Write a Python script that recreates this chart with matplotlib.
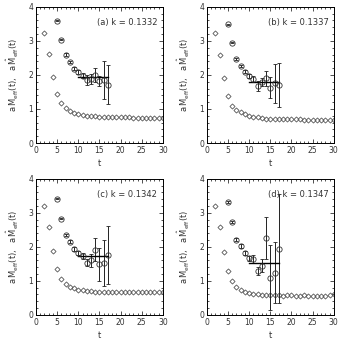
import numpy as np
import matplotlib.pyplot as plt
from matplotlib.ticker import MultipleLocator

# effective masses, lower (t = 2..30) and upper (t = 5..17) channels
t_low = np.arange(2, 31)
t_up = np.arange(5, 18)

labels = ['(a) k = 0.1332', '(b) k = 0.1337', '(c) k = 0.1342', '(d) k = 0.1347']

low = [
    [3.22, 2.61, 1.93, 1.43, 1.17, 1.02, 0.95, 0.87, 0.84, 0.82, 0.80, 0.79, 0.78, 0.77, 0.76,
     0.76, 0.76, 0.75, 0.75, 0.75, 0.75, 0.74, 0.74, 0.74, 0.74, 0.74, 0.74, 0.74, 0.74],
    [3.22, 2.60, 1.90, 1.39, 1.09, 0.96, 0.90, 0.84, 0.80, 0.77, 0.75, 0.73, 0.72, 0.71, 0.71,
     0.70, 0.70, 0.70, 0.70, 0.70, 0.70, 0.69, 0.69, 0.69, 0.69, 0.69, 0.69, 0.69, 0.69],
    [3.20, 2.59, 1.87, 1.34, 1.04, 0.90, 0.83, 0.78, 0.74, 0.72, 0.70, 0.69, 0.68, 0.67, 0.67,
     0.67, 0.66, 0.66, 0.66, 0.66, 0.66, 0.66, 0.66, 0.66, 0.66, 0.66, 0.66, 0.66, 0.67],
    [3.20, 2.58, 1.85, 1.29, 1.00, 0.82, 0.73, 0.66, 0.63, 0.61, 0.60, 0.59, 0.58, 0.57, 0.57,
     0.57, 0.56, 0.57, 0.57, 0.56, 0.56, 0.57, 0.56, 0.55, 0.55, 0.55, 0.56, 0.59, 0.60],
]

up = [
    [3.59, 3.04, 2.60, 2.39, 2.18, 2.08, 1.98, 1.85, 1.88, 2.00, 1.82, 1.85, 1.71],
    [3.49, 2.95, 2.48, 2.26, 2.10, 1.97, 1.88, 1.68, 1.80, 1.90, 1.63, 1.76, 1.70],
    [3.41, 2.83, 2.34, 2.15, 1.94, 1.82, 1.73, 1.53, 1.60, 1.92, 1.48, 1.53, 1.76],
    [3.32, 2.73, 2.21, 2.02, 1.82, 1.66, 1.63, 1.29, 1.45, 2.26, 1.09, 1.24, 1.94],
]
up_err = [
    [0.02, 0.02, 0.03, 0.03, 0.04, 0.06, 0.08, 0.15, 0.15, 0.20, 0.15, 0.55, 0.57],
    [0.02, 0.02, 0.03, 0.04, 0.05, 0.07, 0.09, 0.15, 0.12, 0.22, 0.30, 0.57, 0.65],
    [0.02, 0.02, 0.03, 0.04, 0.05, 0.07, 0.10, 0.10, 0.20, 0.35, 0.48, 0.68, 0.86],
    [0.02, 0.03, 0.04, 0.05, 0.06, 0.08, 0.12, 0.13, 0.20, 0.62, 0.95, 0.90, 1.60],
]

plateau = [1.93, 1.78, 1.72, 1.53]
fit_range = (10, 17)

fig = plt.figure(figsize=(3.43, 3.43), dpi=100)
pos = [(0.105, 0.583), (0.603, 0.583), (0.105, 0.082), (0.603, 0.082)]
ylab = r'$\mathrm{a\,M_{eff}(t),\ \ a\,\hat{M}_{eff}(t)}$'

for i in range(4):
    ax = fig.add_axes([pos[i][0], pos[i][1], 0.370, 0.397])
    ax.plot(t_low, low[i], ls='none', marker='D', ms=2.6, mfc='none',
            mec='#555555', mew=0.6)
    ax.errorbar(t_up, up[i], yerr=up_err[i], fmt='o', ms=3.8, mfc='none',
                mec='#333333', mew=0.6, ecolor='#222222', elinewidth=0.7,
                capsize=1.2, capthick=0.6)
    ax.plot(fit_range, [plateau[i], plateau[i]], color='black', lw=1.0)
    ax.text(14.5, 3.55, labels[i], fontsize=6, color='#333333', va='center')

    ax.set_xlim(0, 30)
    ax.set_ylim(0, 4)
    ax.xaxis.set_major_locator(MultipleLocator(5))
    ax.xaxis.set_minor_locator(MultipleLocator(1))
    ax.yaxis.set_major_locator(MultipleLocator(1))
    ax.yaxis.set_minor_locator(MultipleLocator(0.2))
    ax.tick_params(which='both', direction='in', top=True, right=True,
                   labelsize=5.5, colors='#333333', pad=2, width=0.6)
    ax.tick_params(which='major', length=3)
    ax.tick_params(which='minor', length=1.5)
    for s in ax.spines.values():
        s.set_linewidth(0.7)
    ax.set_xlabel('t', fontsize=6, color='#333333', labelpad=3)
    ax.set_ylabel(ylab, fontsize=6, color='#333333', labelpad=5)

fig.savefig('out.png', dpi=100)
